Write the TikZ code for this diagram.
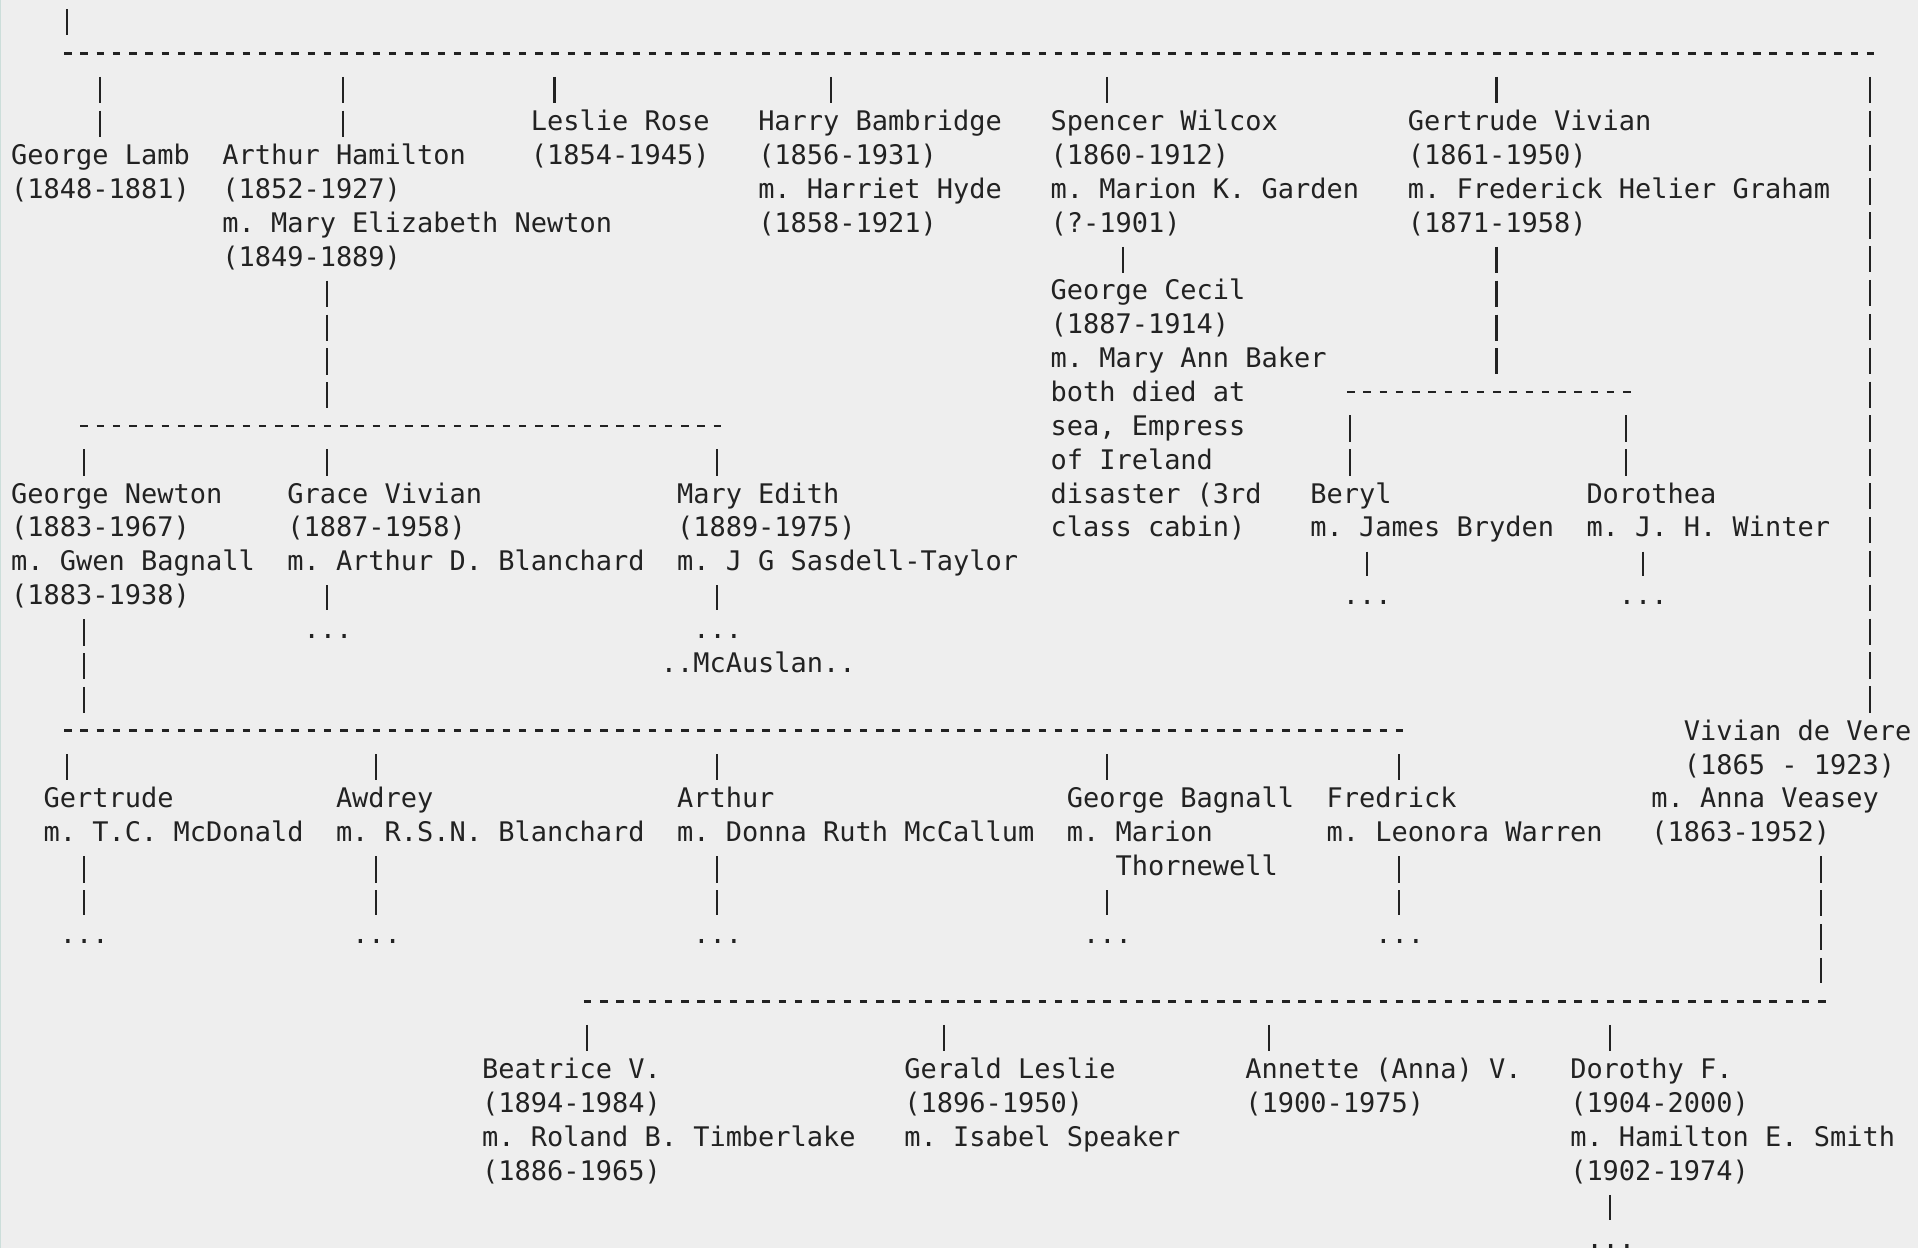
\documentclass[tikz,border=0pt]{standalone}
\usepackage{fontspec}
\newfontfamily\treemono{DejaVu Sans Mono}
\definecolor{treeInk}{HTML}{222222}
\definecolor{treePaper}{HTML}{EEEEEE}
\definecolor{treeEdge}{HTML}{CCDEDA}
\begin{document}
\begin{tikzpicture}[
    x=0.1624cm,y=-0.3386cm,
    every node/.style={font=\treemono\fontsize{7.675}{9.634}\selectfont\frenchspacing,text=treeInk,inner sep=0pt,anchor=base west,align=left,execute at begin node={\rule{0pt}{0.8em}},execute at end node={\rule[-0.3em]{0pt}{0pt}}},
    bus/.style={draw=treeInk,line width=0.7pt,dash pattern=on 0.075cm off 0.0874cm},
    pipe/.style={draw=treeInk,line width=0.6pt,dash pattern=on 0.263cm off 0.0756cm},
    drop/.style={pipe,shorten <=0.2334cm,shorten >=0.0598cm},
    rise/.style={pipe,shorten <=0.0577cm,shorten >=0.1808cm},
    link/.style={pipe,shorten <=0.0577cm,shorten >=0.0598cm}
]
\useasboundingbox (-0.6466,-2.859) rectangle (117.457,33.999);
\fill[treePaper] (-0.6466,-2.859) rectangle (117.457,33.999);
\fill[treeEdge] (-0.6466,-2.859) rectangle (-0.585,33.999);

\node (lamb) at (0,3) {George Lamb\\(1848-1881)};
\node (hamilton) at (13,5) {Arthur Hamilton\\(1852-1927)\\m. Mary Elizabeth Newton\\(1849-1889)};
\node (rose) at (32,2) {Leslie Rose\\(1854-1945)};
\node (bambridge) at (46,4) {Harry Bambridge\\(1856-1931)\\m. Harriet Hyde\\(1858-1921)};
\node (wilcox) at (64,4) {Spencer Wilcox\\(1860-1912)\\m. Marion K. Garden\\(?-1901)};
\node (gvivian) at (86,4) {Gertrude Vivian\\(1861-1950)\\m. Frederick Helier Graham\\(1871-1958)};
\node (devere) at (101,22) {\phantom{00}Vivian de Vere\\\phantom{00}(1865 - 1923)\\m. Anna Veasey\\(1863-1952)};
\node (cecil) at (64,13) {George Cecil\\(1887-1914)\\m. Mary Ann Baker\\both died at\\sea, Empress\\of Ireland\\disaster (3rd\\class cabin)};
\node (gnewton) at (0,15) {George Newton\\(1883-1967)\\m. Gwen Bagnall\\(1883-1938)};
\node (grace) at (17,14) {Grace Vivian\\(1887-1958)\\m. Arthur D. Blanchard};
\node (edith) at (41,14) {Mary Edith\\(1889-1975)\\m. J G Sasdell-Taylor};
\node (gracemore) at (18,16) {...};
\node (edithmore) at (42,16) {...};
\node (mcauslan) at (40,17) {..McAuslan..};
\node (beryl) at (80,13) {Beryl\\m. James Bryden};
\node (dorothea) at (97,13) {Dorothea\\m. J. H. Winter};
\node (berylmore) at (82,15) {...};
\node (dorotheamore) at (99,15) {...};
\node (gertrude) at (2,22) {Gertrude\\m. T.C. McDonald};
\node (awdrey) at (20,22) {Awdrey\\m. R.S.N. Blanchard};
\node (arthur) at (41,22) {Arthur\\m. Donna Ruth McCallum};
\node (bagnall) at (65,23) {George Bagnall\\m. Marion\\\phantom{000}Thornewell};
\node (fredrick) at (81,22) {Fredrick\\m. Leonora Warren};
\node (gertrudemore) at (3,25) {...};
\node (awdreymore) at (21,25) {...};
\node (arthurmore) at (42,25) {...};
\node (bagnallmore) at (66,25) {...};
\node (fredrickmore) at (84,25) {...};
\node (beatrice) at (29,32) {Beatrice V.\\(1894-1984)\\m. Roland B. Timberlake\\(1886-1965)};
\node (gerald) at (55,31) {Gerald Leslie\\(1896-1950)\\m. Isabel Speaker};
\node (annette) at (76,30) {Annette (Anna) V.\\(1900-1975)};
\node (dorothy) at (96,32) {Dorothy F.\\(1904-2000)\\m. Hamilton E. Smith\\(1902-1974)};
\node (dorothymore) at (97,34) {...};

\coordinate (root) at (3.5,-2.5907);
\coordinate (uproot) at (3.5,-1.28);
\coordinate (busaw) at (3.3,-1.28);
\coordinate (busae) at (114.7618,-1.28);
\coordinate (uplamb) at (5.5,-1.28);
\coordinate (uphamilton) at (20.5,-1.28);
\coordinate (uprose) at (33.5,-1.28);
\coordinate (upbambridge) at (50.5,-1.28);
\coordinate (upwilcox) at (67.5,-1.28);
\coordinate (upgvivian) at (91.5,-1.28);
\coordinate (updevere) at (114.5,-1.28);
\draw[pipe,shorten >=0.1808cm] (root) -- (uproot);
\draw[bus] (busaw) -- (busae);
\draw[drop] (uplamb) -- (uplamb |- lamb.north);
\draw[drop] (uphamilton) -- (uphamilton |- hamilton.north);
\draw[drop] (uprose) -- (uprose |- rose.north);
\draw[drop] (upbambridge) -- (upbambridge |- bambridge.north);
\draw[drop] (upwilcox) -- (upwilcox |- wilcox.north);
\draw[drop] (upgvivian) -- (upgvivian |- gvivian.north);
\draw[drop] (updevere) -- (updevere |- devere.north);

\coordinate (downwilcox) at (68.5,5);
\draw[link] (downwilcox |- wilcox.south) -- (downwilcox |- cecil.north);

\coordinate (busbw) at (4.3,9.72);
\coordinate (busbe) at (43.7618,9.72);
\coordinate (downhamilton) at (19.5,9.72);
\coordinate (upgnewton) at (4.5,9.72);
\coordinate (upgrace) at (19.5,9.72);
\coordinate (upedith) at (43.5,9.72);
\draw[rise] (downhamilton |- hamilton.south) -- (downhamilton);
\draw[bus] (busbw) -- (busbe);
\draw[drop] (upgnewton) -- (upgnewton |- gnewton.north);
\draw[drop] (upgrace) -- (upgrace |- grace.north);
\draw[drop] (upedith) -- (upedith |- edith.north);
\coordinate (downgrace) at (19.5,15);
\coordinate (downedith) at (43.5,15);
\draw[link] (downgrace |- grace.south) -- (downgrace |- gracemore.north);
\draw[link] (downedith |- edith.south) -- (downedith |- edithmore.north);

\coordinate (buscw) at (82.3,8.72);
\coordinate (busce) at (99.7618,8.72);
\coordinate (downgvivian) at (91.5,8.72);
\coordinate (upberyl) at (82.5,8.72);
\coordinate (updorothea) at (99.5,8.72);
\draw[rise] (downgvivian |- gvivian.south) -- (downgvivian);
\draw[bus] (buscw) -- (busce);
\draw[drop] (upberyl) -- (upberyl |- beryl.north);
\draw[drop] (updorothea) -- (updorothea |- dorothea.north);
\coordinate (downberyl) at (83.5,14);
\coordinate (downdorothea) at (100.5,14);
\draw[link] (downberyl |- beryl.south) -- (downberyl |- berylmore.north);
\draw[link] (downdorothea |- dorothea.south) -- (downdorothea |- dorotheamore.north);

\coordinate (busdw) at (3.3,18.72);
\coordinate (busde) at (85.7618,18.72);
\coordinate (downgnewton) at (4.5,18.72);
\coordinate (upgertrude) at (3.5,18.72);
\coordinate (upawdrey) at (22.5,18.72);
\coordinate (uparthur) at (43.5,18.72);
\coordinate (upbagnall) at (67.5,18.72);
\coordinate (upfredrick) at (85.5,18.72);
\draw[rise] (downgnewton |- gnewton.south) -- (downgnewton);
\draw[bus] (busdw) -- (busde);
\draw[drop] (upgertrude) -- (upgertrude |- gertrude.north);
\draw[drop] (upawdrey) -- (upawdrey |- awdrey.north);
\draw[drop] (uparthur) -- (uparthur |- arthur.north);
\draw[drop] (upbagnall) -- (upbagnall |- bagnall.north);
\draw[drop] (upfredrick) -- (upfredrick |- fredrick.north);
\coordinate (downgertrude) at (4.5,23);
\coordinate (downawdrey) at (22.5,23);
\coordinate (downarthur) at (43.5,23);
\coordinate (downbagnall) at (67.5,24);
\coordinate (downfredrick) at (85.5,23);
\draw[link] (downgertrude |- gertrude.south) -- (downgertrude |- gertrudemore.north);
\draw[link] (downawdrey |- awdrey.south) -- (downawdrey |- awdreymore.north);
\draw[link] (downarthur |- arthur.south) -- (downarthur |- arthurmore.north);
\draw[link] (downbagnall |- bagnall.south) -- (downbagnall |- bagnallmore.north);
\draw[link] (downfredrick |- fredrick.south) -- (downfredrick |- fredrickmore.north);

\coordinate (busew) at (35.3,26.72);
\coordinate (busee) at (111.7618,26.72);
\coordinate (downdevere) at (111.5,26.72);
\coordinate (upbeatrice) at (35.5,26.72);
\coordinate (upgerald) at (57.5,26.72);
\coordinate (upannette) at (77.5,26.72);
\coordinate (updorothy) at (98.5,26.72);
\draw[rise] (downdevere |- devere.south) -- (downdevere);
\draw[bus] (busew) -- (busee);
\draw[drop] (upbeatrice) -- (upbeatrice |- beatrice.north);
\draw[drop] (upgerald) -- (upgerald |- gerald.north);
\draw[drop] (upannette) -- (upannette |- annette.north);
\draw[drop] (updorothy) -- (updorothy |- dorothy.north);
\coordinate (downdorothy) at (98.5,33);
\draw[link] (downdorothy |- dorothy.south) -- (downdorothy |- dorothymore.north);
\end{tikzpicture}
\end{document}
